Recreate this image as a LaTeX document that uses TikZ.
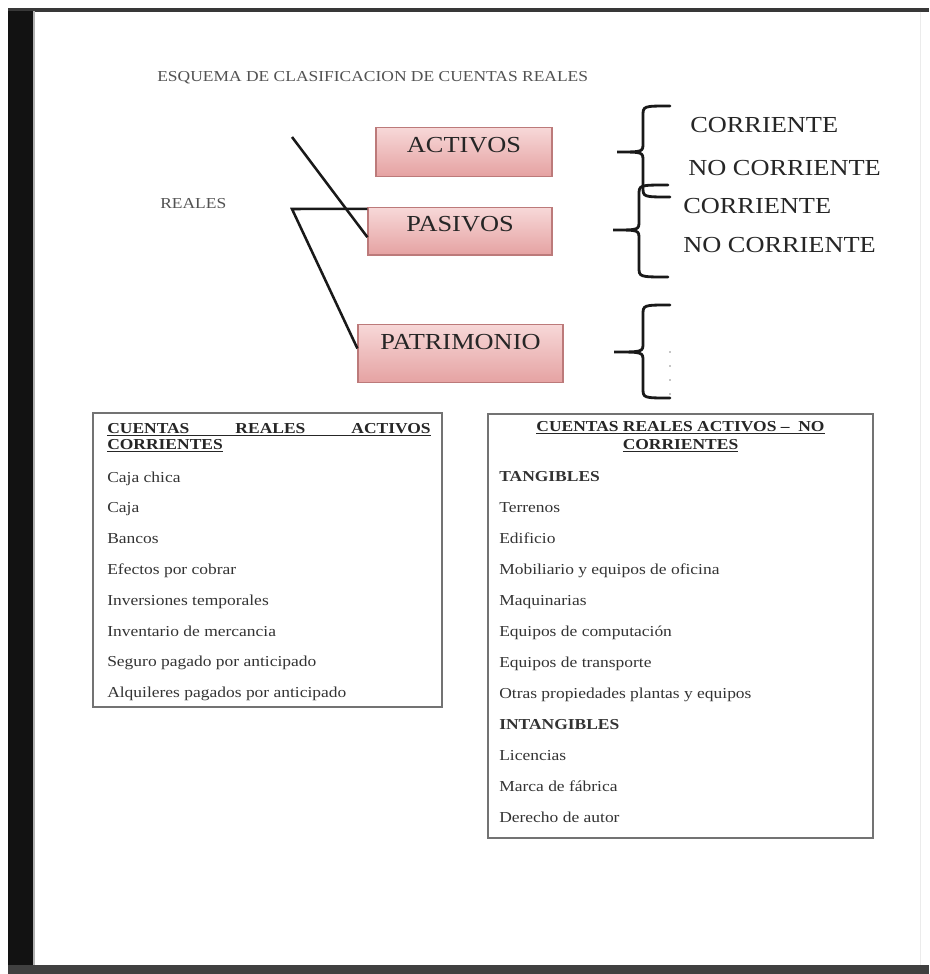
\documentclass[tikz,border=0pt]{standalone}
\usepackage{fontspec}
\setmainfont{Liberation Serif}[FakeStretch=1.15]
\definecolor{rosaclaro}{RGB}{247,216,216}
\definecolor{rosaoscuro}{RGB}{229,162,162}
\definecolor{rosaborde}{RGB}{188,122,122}
\usetikzlibrary{calc}

% llave: extremo x, y arriba, y abajo, x del trazo, x de la punta, y de la punta
\newcommand{\llave}[6]{%
  \draw[trazollave] (#1,#2) .. controls (#4,#2) and (#4,#2) .. (#4,#2+10)
    -- (#4,#6-9) .. controls (#4,#6) and (#4,#6) .. (#5,#6)
    .. controls (#4,#6) and (#4,#6) .. (#4,#6+9)
    -- (#4,#3-10) .. controls (#4,#3) and (#4,#3) .. (#1,#3);}

\tikzset{
  cuenta/.style={draw=rosaborde, line width=0.8pt, top color=rosaclaro,
    bottom color=rosaoscuro, font=\fontsize{16.3}{18}\selectfont,
    text=black!85, inner sep=0pt},
  clase/.style={font=\fontsize{16.3}{18}\selectfont, text=black!85,
    inner sep=0pt, anchor=west},
  titulo/.style={font=\fontsize{10.8}{12}\selectfont, text=black!68,
    inner sep=0pt, anchor=west},
  rama/.style={line width=1.8pt, black!90},
  trazollave/.style={line width=2pt, line cap=round, black!90},
  tabla/.style={draw=black!55, line width=1.1pt},
  cabecera/.style={font=\fontsize{10.8}{12}\selectfont\bfseries,
    text=black!85, inner sep=0pt},
  item/.style={font=\fontsize{10.8}{12}\selectfont, text=black!80,
    inner sep=0pt, anchor=base west},
}

\begin{document}
\begin{tikzpicture}[x=0.025cm,y=-0.025cm]
    \useasboundingbox (0,0) rectangle (929,974);

    % Marco de la pagina
    \fill[white] (0,0) rectangle (929,974);
    \fill[black!78] (8,8) rectangle (929,11.5);
    \fill[black!93] (8,11) rectangle (33,965);
    \fill[black!75] (8,965) rectangle (929,974);
    \draw[black!30, line width=0.8pt] (34,11) -- (34,965);
    \draw[black!8, line width=0.6pt] (920,11.5) -- (920,965);

    % Titulo
    \node[titulo] (titulo) at (157,78) {ESQUEMA DE CLASIFICACION DE CUENTAS REALES};
    \node[titulo] (reales) at (160,204) {REALES};

    % Cuentas
    \node[cuenta, minimum width=4.4cm, minimum height=1.22cm] (act) at (464,151.7) {\raisebox{9.4pt}{ACTIVOS}};
    \node[cuenta, minimum width=4.6cm, minimum height=1.19cm] (pas) at (460,231.2) {\raisebox{9.9pt}{PASIVOS}};
    \node[cuenta, minimum width=5.125cm, minimum height=1.47cm] (pat) at (460.5,353.5) {\raisebox{17pt}{PATRIMONIO}};

    % Ramas
    \coordinate (arriba) at (292,137);
    \coordinate (bifurca) at (292,209);
    \draw[rama] (arriba) -- ($(pas.west)+(0,6)$);
    \draw[rama] ($(pas.north west)+(0,2)$) -- (bifurca) -- ($(pat.west)+(0,-5)$);

    % Llaves
    \llave{670}{106}{197}{643}{617}{152}
    \llave{668}{185}{277}{639}{613}{230}
    \llave{670}{305}{398}{643}{614}{352}
    \foreach \y in {352,366,380,394}
        \fill[black!45] (670,\y) circle (0.7pt);

    \node[clase] (corr1) at (690,125) {CORRIENTE};
    \node[clase] (nocorr1) at (688,168) {NO CORRIENTE};
    \node[clase] (corr2) at (683,206) {CORRIENTE};
    \node[clase] (nocorr2) at (683,245) {NO CORRIENTE};

    % Activos corrientes
    \draw[tabla] (93,413) rectangle (442,707);
    \node[cabecera, anchor=base west] (hcorr) at (107,433)
        {\underline{\makebox[230pt][s]{CUENTAS\hfill REALES\hfill ACTIVOS}}};
    \node[cabecera, anchor=base west] (hcorrb) at (107,449) {\underline{CORRIENTES}};
    \foreach \t [count=\i] in {Caja chica, Caja, Bancos, Efectos por cobrar,
        Inversiones temporales, Inventario de mercancia,
        Seguro pagado por anticipado, Alquileres pagados por anticipado}
        \node[item] (ac\i) at (107,482+30.8*\i-30.8) {\t};

    % Activos no corrientes
    \draw[tabla] (488,414) rectangle (873,838);
    \node[cabecera, anchor=base] (hnocorr) at (680.5,431)
        {\underline{CUENTAS REALES ACTIVOS –\ \ NO}};
    \node[cabecera, anchor=base] (hnocorrb) at (680.5,449) {\underline{CORRIENTES}};
    \foreach \t [count=\i] in {\textbf{TANGIBLES}, Terrenos, Edificio,
        Mobiliario y equipos de oficina, Maquinarias, Equipos de computación,
        Equipos de transporte, Otras propiedades plantas y equipos,
        \textbf{INTANGIBLES}, Licencias, Marca de fábrica, Derecho de autor}
        \node[item] (anc\i) at (499,481+31*\i-31) {\t};
\end{tikzpicture}
\end{document}
